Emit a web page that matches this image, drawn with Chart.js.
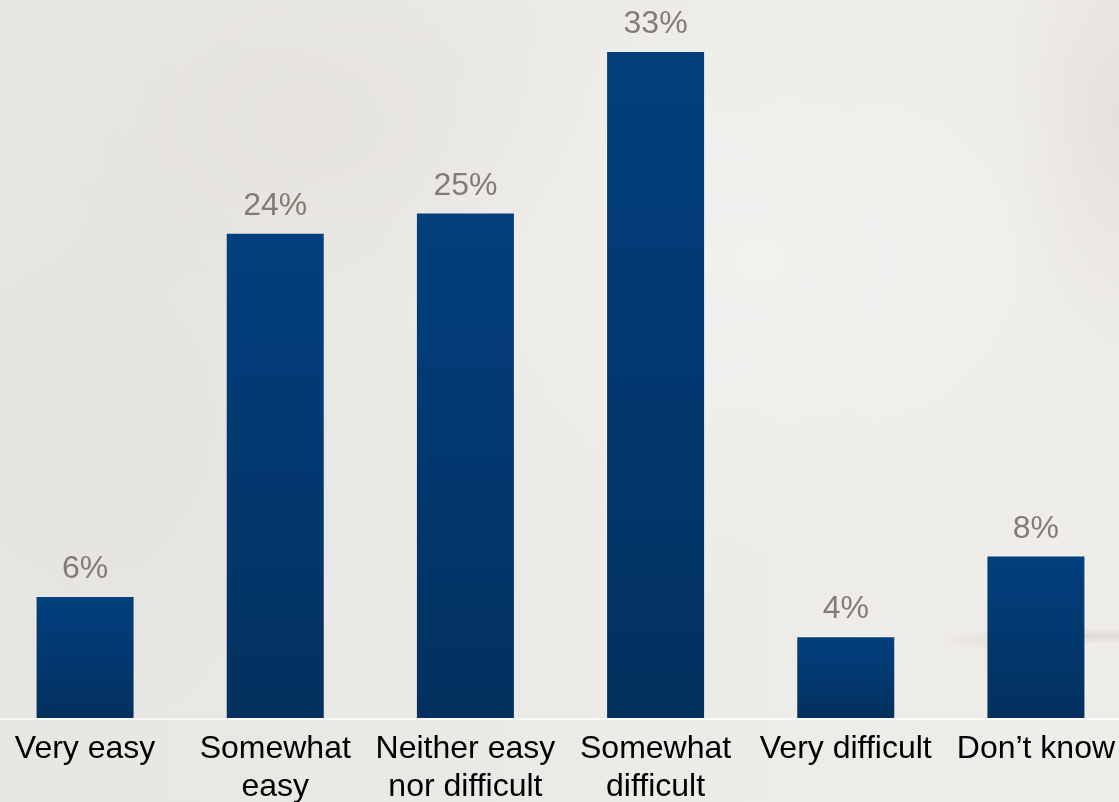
<!DOCTYPE html>
<html>
<head>
<meta charset="utf-8">
<script src="https://cdn.jsdelivr.net/npm/chart.js@4/dist/chart.umd.min.js"></script>
<style>
  html, body { margin: 0; padding: 0; width: 1119px; height: 802px; overflow: hidden; }
  body {
    position: relative;
    background:
      radial-gradient(ellipse 60px 12px at 1000px 640px, rgba(170,150,120,0.15), rgba(170,150,120,0) 100%),
      radial-gradient(ellipse 120px 8px at 1090px 636px, rgba(150,135,110,0.18), rgba(150,135,110,0) 100%),
      radial-gradient(ellipse 120px 260px at 1119px 120px, rgba(205,200,190,0.3), rgba(205,200,190,0) 100%),
      radial-gradient(ellipse 300px 200px at 300px 120px, rgba(220,217,212,0.35), rgba(220,217,212,0) 100%),
      radial-gradient(ellipse 220px 300px at 120px 420px, rgba(222,220,215,0.4), rgba(222,220,215,0) 100%),
      radial-gradient(ellipse 400px 300px at 760px 260px, rgba(244,243,241,0.7), rgba(244,243,241,0) 100%),
      linear-gradient(90deg, #e8e6e2 0%, #ebe9e6 40%, #eeece9 70%, #efedea 100%);
  }
  #wrap { position: absolute; left: -10px; top: 0; width: 1141px; height: 802px; }
</style>
</head>
<body>
<div id="wrap"><canvas id="chart"></canvas></div>
<script>
// Survey responses: how easy or difficult it was
const categories = [
  ["Very easy"],
  ["Somewhat", "easy"],
  ["Neither easy", "nor difficult"],
  ["Somewhat", "difficult"],
  ["Very difficult"],
  ["Don\u2019t know"]
];
const shares = [6, 24, 25, 33, 4, 8];
const valueLabels = ["6%", "24%", "25%", "33%", "4%", "8%"];

const FONT = "'Liberation Sans', Arial, sans-serif";

// Vertical gradient fitted to each bar's own top and bottom
function barFill(ctx) {
  const chart = ctx.chart;
  const yScale = chart.scales.y;
  if (!yScale || ctx.raw === undefined) return '#023c76';
  const top = yScale.getPixelForValue(ctx.raw);
  const bottom = yScale.getPixelForValue(0);
  if (!isFinite(top) || !isFinite(bottom)) return '#023c76';
  const g = chart.ctx.createLinearGradient(0, top, 0, bottom);
  g.addColorStop(0, '#023f7d');
  g.addColorStop(0.5, '#02386f');
  g.addColorStop(1, '#03305e');
  return g;
}

// Percent labels above bars, plus the pale baseline drawn over the bar feet
const overlay = {
  id: 'overlay',
  afterDatasetsDraw(chart) {
    const { ctx } = chart;
    const meta = chart.getDatasetMeta(0);
    ctx.save();
    ctx.font = "32px " + FONT;
    ctx.fillStyle = '#857b73';
    ctx.textAlign = 'center';
    ctx.textBaseline = 'alphabetic';
    meta.data.forEach((bar, i) => {
      ctx.fillText(valueLabels[i], bar.x, bar.y - 19);
    });
    const yBase = chart.scales.y.getPixelForValue(0);
    ctx.strokeStyle = 'rgba(255,255,255,0.75)';
    ctx.lineWidth = 2;
    ctx.beginPath();
    ctx.moveTo(0, yBase + 1);
    ctx.lineTo(chart.width, yBase + 1);
    ctx.stroke();
    ctx.restore();
  }
};

const chart = new Chart(document.getElementById('chart'), {
  type: 'bar',
  data: {
    labels: categories,
    datasets: [{
      data: shares,
      backgroundColor: barFill,
      borderWidth: 0,
      categoryPercentage: 1,
      barPercentage: 0.51
    }]
  },
  options: {
    responsive: true,
    maintainAspectRatio: false,
    animation: false,
    layout: { padding: 0 },
    plugins: { legend: { display: false }, tooltip: { enabled: false } },
    scales: {
      x: {
        grid: { display: false, drawTicks: false },
        border: { display: false },
        ticks: {
          color: '#000000',
          font: { family: FONT, size: 32, lineHeight: 1.16 },
          padding: 13,
          maxRotation: 0,
          autoSkip: false
        },
        afterFit(scale) { scale.height = 84; }
      },
      y: {
        display: false,
        min: 0,
        max: 35.58
      }
    }
  },
  plugins: [overlay]
});
// scales are laid out now, so the bar gradients can resolve
chart.update();
</script>
</body>
</html>
